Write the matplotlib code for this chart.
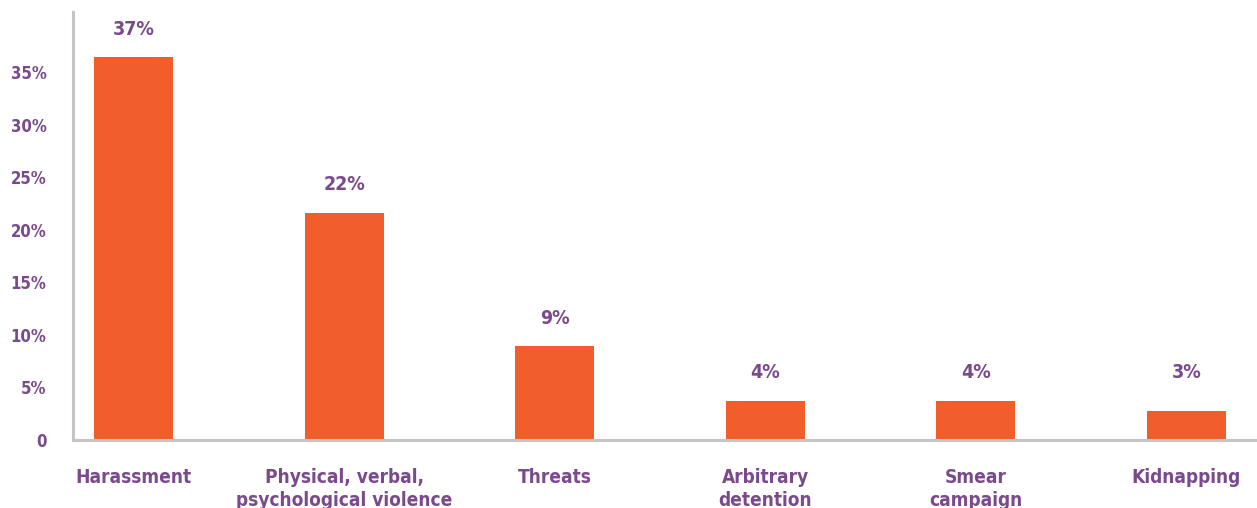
import matplotlib.pyplot as plt

# Dados do gráfico
categorias = ["Harassment", "Physical, verbal,\npsychological violence", "Threats",
              "Arbitrary\ndetention", "Smear\ncampaign", "Kidnapping"]
valores = [36.4, 21.6, 8.9, 3.7, 3.7, 2.8]
rotulos = ["37%", "22%", "9%", "4%", "4%", "3%"]
ticks_y = [0, 5, 10, 15, 20, 25, 30, 35]
ticks_y_rotulos = ["0", "5%", "10%", "15%", "20%", "25%", "30%", "35%"]

laranja = "#F15E2B"
roxo = "#7A4A8C"

# Fonte condensada em negrito
estilo = dict(family="DejaVu Sans", stretch="condensed", fontweight="bold")

fig = plt.figure(figsize=(12.57, 5.08), dpi=100)
ax = fig.add_axes([0.0581, 0.1339, 0.9419, 0.8421])

x = list(range(len(categorias)))
ax.bar(x, valores, width=0.375, color=laranja, zorder=2)

# Rótulos de valor acima das barras (os mais baixos ficam alinhados)
for xi, v, r in zip(x, valores, rotulos):
    ax.annotate(r, (xi, max(v, valores[4])), xytext=(0, 13.5), textcoords="offset points",
                ha="center", va="bottom", color=roxo, fontsize=14, **estilo)

ax.set_xlim(-0.287, 5.335)
ax.set_ylim(0, 40.7)

ax.set_xticks(x)
ax.set_xticklabels(categorias, color=roxo, fontsize=13.7, linespacing=1.25,
                   va="top", **estilo)
ax.set_yticks(ticks_y)
ax.set_yticklabels(ticks_y_rotulos, color=roxo, fontsize=12, **estilo)
ax.tick_params(axis="both", length=0)
ax.tick_params(axis="x", pad=20)
ax.tick_params(axis="y", pad=19)

for lado in ["top", "right"]:
    ax.spines[lado].set_visible(False)
for lado in ["left", "bottom"]:
    ax.spines[lado].set_color("#C4C4C4")
    ax.spines[lado].set_linewidth(2.2)

plt.savefig("out.png", dpi=100)
